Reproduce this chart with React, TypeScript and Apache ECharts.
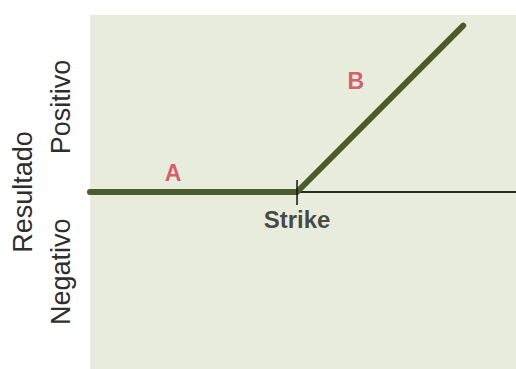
import React, { useEffect, useRef } from "react";
import * as echarts from "echarts";

// Payoff profile (long call): flat until the strike, then rising
const payoffX = [0, 48.6, 87.6];
const payoffY = [0, 0, 0.94];

// Strike marker
const strikeX = 48.6;
const strikeTickY = [-0.073, 0.068];
const strikeLabel = "Strike";
const strikeLabelY = -0.158;

// Region labels
const regionNames = ["A", "B"];
const regionX = [19.5, 62.4];
const regionY = [0.11, 0.625];

// Y axis texts
const yAxisTitle = "Resultado";
const yTickValues = [0.48, -0.45];
const yTickLabels = ["Positivo", "Negativo"];

export default function App() {
  const ref = useRef<HTMLDivElement>(null);
  useEffect(() => {
    if (!ref.current) return;
    const chart = echarts.init(ref.current, undefined, { renderer: "svg" });
    const font = "'Liberation Sans', Arial, sans-serif";
    chart.setOption({
      animation: false,
      backgroundColor: "#ffffff",
      grid: {
        left: 90,
        top: 15,
        right: 0,
        bottom: 0,
        show: true,
        backgroundColor: "#e8ecdc",
        borderWidth: 0,
      },
      xAxis: {
        type: "value",
        min: 0,
        max: 100,
        axisLine: { show: true, onZero: true, lineStyle: { color: "#2a2a2a", width: 2 } },
        axisTick: { show: false },
        axisLabel: { show: false },
        splitLine: { show: false },
      },
      yAxis: {
        type: "value",
        min: -1,
        max: 1,
        name: yAxisTitle,
        nameLocation: "middle",
        nameRotate: 90,
        nameGap: 54,
        nameTextStyle: { fontFamily: font, fontSize: 27, color: "#2e2e2e" },
        axisLine: { show: false },
        axisTick: { show: false },
        splitLine: { show: false },
        axisLabel: {
          customValues: yTickValues,
          rotate: 90,
          margin: 16,
          fontFamily: font,
          fontSize: 27,
          color: "#2e2e2e",
          formatter: (v: number) => {
            const i = yTickValues.findIndex((t) => Math.abs(t - v) < 1e-6);
            return i >= 0 ? yTickLabels[i] : "";
          },
        },
      },
      series: [
        {
          type: "line",
          data: payoffX.map((x, i) => [x, payoffY[i]]),
          symbol: "none",
          lineStyle: { color: "#4a5c29", width: 6, cap: "round", join: "round" },
          z: 3,
        },
        {
          type: "line",
          data: strikeTickY.map((y) => [strikeX, y]),
          symbol: "none",
          lineStyle: { color: "#111111", width: 1.5 },
          z: 4,
        },
        {
          type: "scatter",
          symbolSize: 0,
          data: [[strikeX, strikeLabelY]],
          label: {
            show: true,
            position: "inside",
            formatter: strikeLabel,
            fontFamily: font,
            fontWeight: "bold",
            fontSize: 24,
            color: "#1c1c1c",
          },
          z: 5,
        },
        {
          type: "scatter",
          symbolSize: 0,
          data: regionNames.map((n, i) => ({ value: [regionX[i], regionY[i]], name: n })),
          label: {
            show: true,
            position: "inside",
            formatter: (p: any) => p.name,
            fontFamily: font,
            fontWeight: "bold",
            fontSize: 23,
            color: "#d23a4a",
          },
          z: 5,
        },
      ],
    });
    return () => chart.dispose();
  }, []);
  return (
    <div
      ref={ref}
      style={{ position: "fixed", left: 0, top: 0, width: 516, height: 369 }}
    />
  );
}
